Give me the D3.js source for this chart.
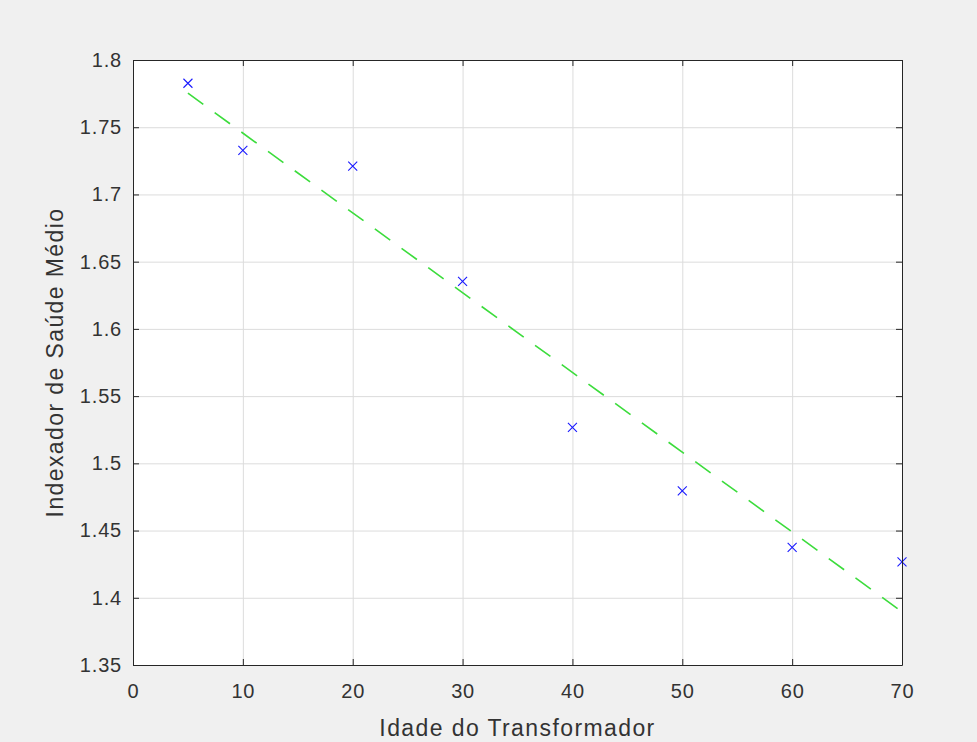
<!DOCTYPE html>
<html lang='pt'>
<head>
<meta charset='utf-8'/>
<title>Indexador de Saúde Médio</title>
<script src='https://d3js.org/d3.v7.min.js'></script>
<style>
  html, body { margin: 0; padding: 0; background: #f0f0f0; }
  svg { display: block; font-family: 'Liberation Sans', Arial, sans-serif; }
  .tick text { fill: #333; font-size: 20px; letter-spacing: 0.8px; }
  .axis path, .axis line { stroke: #262626; }
  .grid line { stroke: #dcdcdc; }
  .grid path { display: none; }
</style>
</head>
<body>
<script>
'use strict'
// data
const ages = [5, 10, 20, 30, 40, 50, 60, 70]
const healthIndex = [1.7827, 1.7328, 1.721, 1.6353, 1.5267, 1.4795, 1.4375, 1.4267]
// linear fit (green dashed), end points
const fitAges = [5, 70]
const fitIndex = [1.7753, 1.3896]
const xTicks = [0, 10, 20, 30, 40, 50, 60, 70]
const yTicks = [1.35, 1.4, 1.45, 1.5, 1.55, 1.6, 1.65, 1.7, 1.75, 1.8]

const W = 977, H = 742
const margin = {top: 60, right: 75, bottom: 77, left: 133}
const width = W - margin.left - margin.right
const height = H - margin.top - margin.bottom

const svg = d3.select('body').append('svg')
  .attr('width', W)
  .attr('height', H)

svg.append('rect')
  .attr('width', W)
  .attr('height', H)
  .attr('fill', '#f0f0f0')

const g = svg.append('g')
  .attr('transform', `translate(${margin.left},${margin.top})`)

const x = d3.scaleLinear().domain([0, 70]).range([0, width])
const y = d3.scaleLinear().domain([1.35, 1.8]).range([height, 0])
const fmt = d => String(+d.toFixed(2))

g.append('rect')
  .attr('width', width)
  .attr('height', height)
  .attr('fill', '#ffffff')

// grid
g.append('g').attr('class', 'grid')
  .call(d3.axisBottom(x).tickValues(xTicks).tickSize(height).tickFormat(''))
g.append('g').attr('class', 'grid')
  .call(d3.axisLeft(y).tickValues(yTicks).tickSize(-width).tickFormat(''))

// fit line
const line = d3.line()
  .x(d => x(d[0]))
  .y(d => y(d[1]))

g.append('path')
  .datum(fitAges.map((a, i) => [a, fitIndex[i]]))
  .attr('d', line)
  .attr('fill', 'none')
  .attr('stroke', '#3cdc3c')
  .attr('stroke-width', 1.6)
  .attr('stroke-dasharray', '19,14')

// markers
const s = 4.5
g.selectAll('path.mark')
  .data(ages.map((a, i) => [a, healthIndex[i]]))
  .join('path')
  .attr('class', 'mark')
  .attr('d', d => {
    const cx = x(d[0]), cy = y(d[1])
    return `M${cx - s},${cy - s}L${cx + s},${cy + s}M${cx - s},${cy + s}L${cx + s},${cy - s}`
  })
  .attr('stroke', '#1a1aff')
  .attr('stroke-width', 1.1)
  .attr('fill', 'none')

// axes, ticks pointing inward on all four sides
g.append('g').attr('class', 'axis')
  .attr('transform', `translate(0,${height})`)
  .call(d3.axisBottom(x).tickValues(xTicks).tickSizeInner(-6).tickSizeOuter(0).tickPadding(19))
g.append('g').attr('class', 'axis')
  .call(d3.axisLeft(y).tickValues(yTicks).tickFormat(fmt).tickSizeInner(-6).tickSizeOuter(0).tickPadding(11))
g.append('g').attr('class', 'axis')
  .call(d3.axisTop(x).tickValues(xTicks).tickSizeInner(-6).tickSizeOuter(0).tickFormat(''))
g.append('g').attr('class', 'axis')
  .attr('transform', `translate(${width},0)`)
  .call(d3.axisRight(y).tickValues(yTicks).tickSizeInner(-6).tickSizeOuter(0).tickFormat(''))

g.selectAll('.axis .tick text').style('font-family', "'Liberation Sans', Arial, sans-serif")

// axis labels
svg.append('text')
  .attr('x', margin.left + width / 2)
  .attr('y', 736)
  .attr('text-anchor', 'middle')
  .attr('fill', '#333')
  .style('font-size', '23px')
  .style('letter-spacing', '1.4px')
  .text('Idade do Transformador')

svg.append('text')
  .attr('transform', `translate(63,${margin.top + height / 2}) rotate(-90)`)
  .attr('text-anchor', 'middle')
  .attr('fill', '#333')
  .style('font-size', '23px')
  .style('letter-spacing', '1.4px')
  .text('Indexador de Saúde Médio')
</script>
</body>
</html>
